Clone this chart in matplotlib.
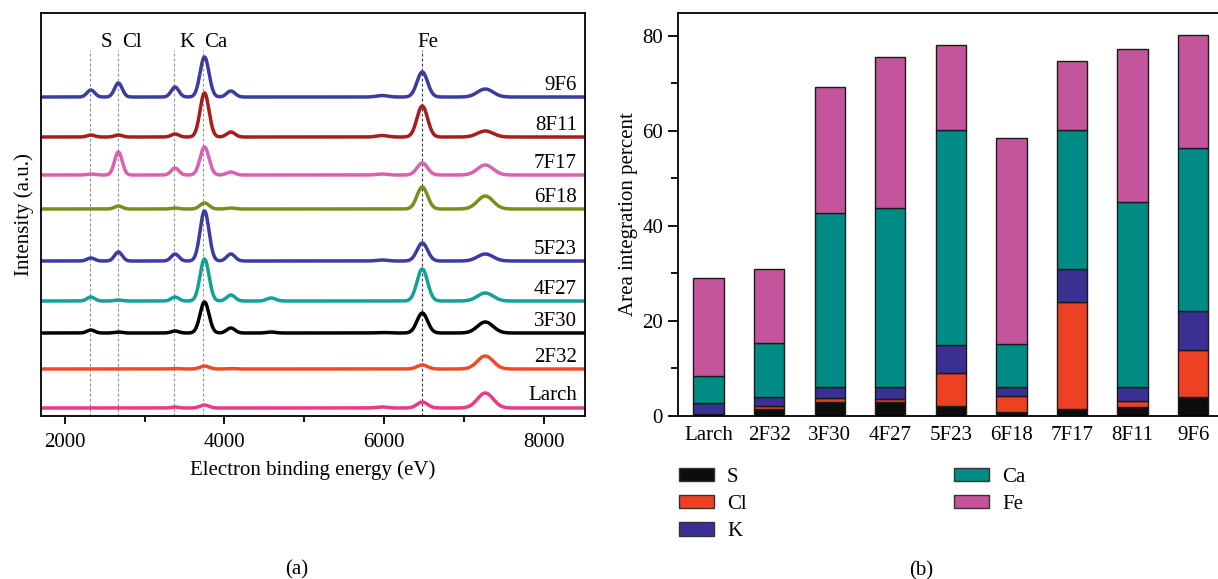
"""
XRF spectra (a) and stacked element area percentages (b).
Output: out.png
"""
import numpy as np
import matplotlib
matplotlib.use("Agg")
import matplotlib.pyplot as plt
from matplotlib.patches import Patch

plt.rcParams.update({
    "font.family": ["Liberation Serif", "DejaVu Serif"],
    "font.size": 15,
    "axes.linewidth": 1.3,
})

# ---- panel (a): spectra, peak table ----
samples = ["9F6", "8F11", "7F17", "6F18", "5F23", "4F27", "3F30", "2F32", "Larch"]
line_colors = ["#3b3ba0", "#a81c1c", "#d862b0", "#808c1a", "#3b3ba0",
               "#13a095", "#000000", "#f04a28", "#ea3a85"]
offsets = [319, 279, 241, 207, 155, 115, 83, 47, 8]

# peak centres (eV) and widths (sigma, eV)
peak_pos = [2325, 2670, 3380, 3750, 4080, 4585, 5976, 6480, 7270]
peak_sig = [48, 48, 48, 56, 52, 55, 70, 66, 98]
# heights (a.u.) per sample, same order as peak_pos
peak_h = {
    "9F6":   [7, 14, 10, 40, 6, 0, 1.5, 25, 8],
    "8F11":  [2, 2, 3, 44, 5, 0, 1.5, 31, 6],
    "7F17":  [1, 23, 7, 28, 3, 0, 1, 12, 10],
    "6F18":  [0, 3, 1, 6, 1, 0, 0, 22, 13],
    "5F23":  [3, 9, 7, 50, 7, 0, 1, 18, 7],
    "4F27":  [4, 1, 4, 42, 6, 3, 0, 32, 8],
    "3F30":  [3, 1, 2, 31, 5, 1, 0.5, 20, 11],
    "2F32":  [0, 0, 0.5, 3, 0.5, 0, 0, 4, 13],
    "Larch": [0, 0, 1, 3, 0, 0, 1, 6, 15],
}

elem_lines = ["S", "Cl", "K", "Ca", "Fe"]
elem_line_pos = [2320, 2660, 3370, 3735, 6480]
elem_label_pos = [2523, 2838, 3525, 3895, 6548]

# ---- panel (b): stacked area integration percent ----
bar_cats = ["Larch", "2F32", "3F30", "4F27", "5F23", "6F18", "7F17", "8F11", "9F6"]
S_vals = [0.4, 1.5, 2.9, 2.9, 2.2, 0.9, 1.4, 1.8, 4.1]
Cl_vals = [0.0, 0.7, 0.8, 0.6, 6.9, 3.4, 22.7, 1.4, 9.8]
K_vals = [2.4, 1.9, 2.3, 2.7, 5.8, 1.7, 6.8, 2.8, 8.1]
Ca_vals = [5.7, 11.2, 36.7, 37.5, 45.3, 9.2, 29.3, 39.0, 34.5]
Fe_vals = [20.6, 15.6, 26.6, 31.9, 17.9, 43.3, 14.5, 32.2, 23.7]
elements = ["S", "Cl", "K", "Ca", "Fe"]
bar_colors = ["#0d0d0d", "#ee4124", "#3a2f92", "#008c84", "#c4559c"]


def spectrum(x, heights):
    y = np.zeros_like(x)
    for p, s, h in zip(peak_pos, peak_sig, heights):
        y += h * np.exp(-0.5 * ((x - p) / s) ** 2)
    return y


fig = plt.figure(figsize=(12.18, 5.79), dpi=100)

# (a)
ax1 = fig.add_axes([41 / 1218, 1 - 416 / 579, 544 / 1218, 403.3 / 579])
x = np.linspace(1700, 8520, 2000)
for name, col, off in zip(samples, line_colors, offsets):
    ax1.plot(x, spectrum(x, peak_h[name]) + off, color=col, lw=2.5,
             solid_capstyle="round")
    ax1.text(8420, off + 12, name, ha="right", va="center")

for el, xp, xl in zip(elem_lines, elem_line_pos, elem_label_pos):
    ax1.plot([xp, xp], [0, 366], ls=(0, (2.5, 2)), lw=0.8,
             color="#333333" if el == "Fe" else "#8f8f8f", zorder=0)
    ax1.text(xl, 374, el, ha="center", va="center")

ax1.set_xlim(1700, 8520)
ax1.set_ylim(0, 403.3)
ax1.set_yticks([])
ax1.set_xticks([2000, 4000, 6000, 8000])
ax1.set_xticks([3000, 5000, 7000], minor=True)
ax1.tick_params(axis="x", which="major", direction="out", length=6, width=1.3,
                pad=6)
ax1.tick_params(axis="x", which="minor", direction="out", length=4, width=1.3)
ax1.set_xlabel("Electron binding energy (eV)", labelpad=6)
ax1.set_ylabel("Intensity (a.u.)", labelpad=5)

# (b)
ax2 = fig.add_axes([677.6 / 1218, 1 - 416 / 579, 540.4 / 1218, 403.3 / 579])
xb = np.arange(len(bar_cats))
bottom = np.zeros(len(bar_cats))
for el, vals, col in zip(elements, [S_vals, Cl_vals, K_vals, Ca_vals, Fe_vals],
                         bar_colors):
    ax2.bar(xb, vals, 0.5, bottom=bottom, color=col, edgecolor="#1a1a1a",
            linewidth=1.0, label=el)
    bottom += np.array(vals)

ax2.set_xlim(-0.51, 8.41)
ax2.set_ylim(0, 84.9)
ax2.set_xticks(xb)
ax2.set_xticklabels(bar_cats)
ax2.set_yticks([0, 20, 40, 60, 80])
ax2.set_yticks([10, 30, 50, 70], minor=True)
ax2.tick_params(axis="x", length=0, pad=7)
ax2.tick_params(axis="y", which="major", direction="out", length=7, width=1.3)
ax2.tick_params(axis="y", which="minor", direction="out", length=5, width=1.3)
ax2.spines["right"].set_visible(False)
ax2.set_ylabel("Area integration percent", labelpad=3)

handles = [Patch(facecolor=c, edgecolor="#333333", label=e)
           for e, c in zip(elements, bar_colors)]
fig.legend(handles=handles, loc="upper left", ncol=2, frameon=False,
           bbox_to_anchor=(660 / 1218, 1 - 449 / 579),
           handlelength=1.7, handleheight=0.6, columnspacing=9.95,
           labelspacing=0.4, handletextpad=0.62)

fig.text(297 / 1218, 1 - 570 / 579, "(a)", ha="center", va="center")
fig.text(921 / 1218, 1 - 571 / 579, "(b)", ha="center", va="center")

fig.savefig("out.png", dpi=100)
